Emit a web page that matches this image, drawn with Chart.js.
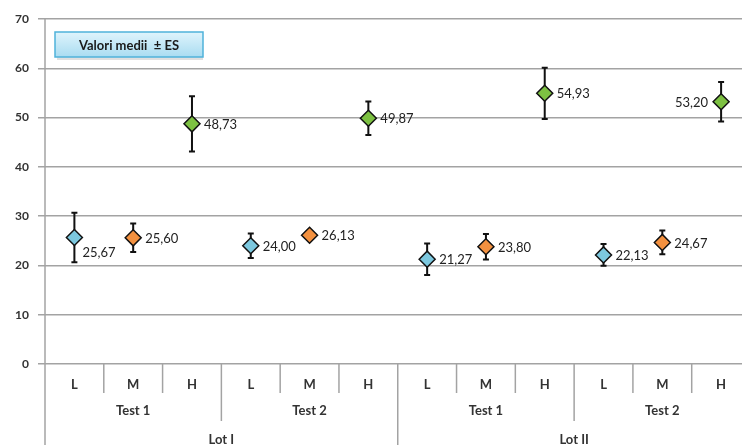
<!DOCTYPE html>
<html>
<head>
<meta charset="utf-8">
<script src="https://cdn.jsdelivr.net/npm/chart.js@4"></script>
<style>
  html, body { margin: 0; padding: 0; background: #fff; overflow: hidden; }
  #wrap { width: 742px; height: 445px; overflow: hidden; position: relative; }
  #box { width: 760px; height: 445px; position: absolute; left: 0; top: 0; }
</style>
</head>
<body>
<div id="wrap"><div id="box"><canvas id="grafico"></canvas></div></div>
<script>
// categorie (tre livelli)
const categories = ['L', 'M', 'H', 'L', 'M', 'H', 'L', 'M', 'H', 'L', 'M', 'H'];
const tests = ['Test 1', 'Test 2', 'Test 1', 'Test 2'];
const lots = ['Lot I', 'Lot II'];

// valori medi e errore standard
const mediaL = [25.67, null, null, 24.00, null, null, 21.27, null, null, 22.13, null, null];
const mediaM = [null, 25.60, null, null, 26.13, null, null, 23.80, null, null, 24.67, null];
const mediaH = [null, null, 48.73, null, null, 49.87, null, null, 54.93, null, null, 53.20];
const esL = [5.0, null, null, 2.5, null, null, 3.2, null, null, 2.2, null, null];
const esM = [null, 2.9, null, null, 0.8, null, null, 2.6, null, null, 2.4, null];
const esH = [null, null, 5.6, null, null, 3.4, null, null, 5.2, null, null, 4.0];

const yTicks = [0, 10, 20, 30, 40, 50, 60, 70];
const titolo = 'Valori medii  \u00b1 ES';

// posizione etichette (solo stile)
const labelPos = {
  '0-0': 'belowRight',
  '2-11': 'left'
};

const gridColor = '#a3a3a3';
const textColor = '#333333';
const fontFam = 'Lato, "Open Sans", sans-serif';

const fmt = v => v.toFixed(2).replace('.', ',');

const erroriPlugin = {
  id: 'errori',
  beforeDatasetsDraw(chart) {
    const ctx = chart.ctx;
    const y = chart.scales.y;
    ctx.save();
    ctx.strokeStyle = '#111';
    ctx.lineWidth = 2;
    chart.data.datasets.forEach((ds, di) => {
      const meta = chart.getDatasetMeta(di);
      meta.data.forEach((pt, i) => {
        const v = ds.data[i], e = ds.errors[i];
        if (v == null || e == null) return;
        const x = pt.x;
        const y1 = y.getPixelForValue(v + e), y2 = y.getPixelForValue(v - e);
        ctx.beginPath();
        ctx.moveTo(x, y1); ctx.lineTo(x, y2);
        ctx.moveTo(x - 3, y1); ctx.lineTo(x + 3, y1);
        ctx.moveTo(x - 3, y2); ctx.lineTo(x + 3, y2);
        ctx.stroke();
      });
    });
    ctx.restore();
  },
  afterDatasetsDraw(chart) {
    const ctx = chart.ctx;
    ctx.save();
    ctx.font = '13px ' + fontFam;
    ctx.fillStyle = '#222';
    ctx.textBaseline = 'middle';
    chart.data.datasets.forEach((ds, di) => {
      const meta = chart.getDatasetMeta(di);
      meta.data.forEach((pt, i) => {
        const v = ds.data[i];
        if (v == null) return;
        const pos = labelPos[di + '-' + i] || 'right';
        if (pos === 'left') {
          ctx.textAlign = 'right';
          ctx.fillText(fmt(v), pt.x - 13, pt.y + 1);
        } else if (pos === 'belowRight') {
          ctx.textAlign = 'left';
          ctx.fillText(fmt(v), pt.x + 8, pt.y + 15);
        } else {
          ctx.textAlign = 'left';
          ctx.fillText(fmt(v), pt.x + 12, pt.y + 1);
        }
      });
    });
    ctx.restore();
  }
};

const assiPlugin = {
  id: 'assi',
  afterDraw(chart) {
    const ctx = chart.ctx;
    const xs = chart.scales.x;
    const area = chart.chartArea;
    const bottom = chart.height;
    ctx.save();
    ctx.strokeStyle = gridColor;
    ctx.lineWidth = 1.5;
    // asse verticale
    ctx.beginPath();
    ctx.moveTo(area.left, area.top);
    ctx.lineTo(area.left, bottom);
    ctx.stroke();
    // divisori categorie
    for (let i = 0; i < categories.length - 1; i++) {
      const x = (xs.getPixelForValue(i) + xs.getPixelForValue(i + 1)) / 2;
      let len = 29;
      if (i === 5) len = bottom - area.bottom;
      else if (i % 3 === 2) len = 57;
      ctx.beginPath();
      ctx.moveTo(x, area.bottom);
      ctx.lineTo(x, area.bottom + len);
      ctx.stroke();
    }
    // etichette gruppi
    ctx.fillStyle = textColor;
    ctx.textAlign = 'center';
    ctx.textBaseline = 'middle';
    ctx.font = 'bold 13px ' + fontFam;
    tests.forEach((t, k) => {
      const x = (xs.getPixelForValue(k * 3) + xs.getPixelForValue(k * 3 + 2)) / 2;
      ctx.fillText(t, x, area.bottom + 47);
    });
    lots.forEach((t, k) => {
      const x = (xs.getPixelForValue(k * 6) + xs.getPixelForValue(k * 6 + 5)) / 2;
      ctx.fillText(t, x, area.bottom + 76);
    });
    // riquadro titolo
    const bx = 55, by = 32, bw = 148, bh = 25;
    ctx.fillStyle = 'rgba(0,0,0,0.12)';
    ctx.fillRect(bx + 2, by + bh, bw - 2, 3);
    const g = ctx.createLinearGradient(0, by, 0, by + bh);
    g.addColorStop(0, '#dff4fc');
    g.addColorStop(1, '#a9dcf1');
    ctx.fillStyle = g;
    ctx.fillRect(bx, by, bw, bh);
    ctx.strokeStyle = '#4fb2da';
    ctx.lineWidth = 1.5;
    ctx.strokeRect(bx, by, bw, bh);
    ctx.fillStyle = '#1a1a1a';
    ctx.font = 'bold 13px ' + fontFam;
    ctx.fillText(titolo, bx + bw / 2, by + bh / 2 + 1);
    ctx.restore();
  }
};

const punto = (label, data, errors, color) => ({
  label: label,
  data: data,
  errors: errors,
  showLine: false,
  pointStyle: 'rectRot',
  pointRadius: 8,
  pointHoverRadius: 8,
  pointBackgroundColor: color,
  pointBorderColor: '#111',
  pointBorderWidth: 1.5,
  backgroundColor: color,
  borderColor: '#111'
});

new Chart(document.getElementById('grafico'), {
  type: 'line',
  data: {
    labels: categories,
    datasets: [
      punto('L', mediaL, esL, '#7cc8df'),
      punto('M', mediaM, esM, '#f39140'),
      punto('H', mediaH, esH, '#7dc142')
    ]
  },
  options: {
    responsive: true,
    maintainAspectRatio: false,
    animation: false,
    layout: { padding: { top: 19, right: 7, left: 0, bottom: 0 } },
    plugins: { legend: { display: false }, tooltip: { enabled: false } },
    scales: {
      x: {
        offset: true,
        grid: { display: false, drawTicks: false, offset: true },
        border: { display: false },
        ticks: {
          padding: 13,
          color: textColor,
          font: { family: fontFam, size: 13, weight: 'bold' },
          maxRotation: 0
        },
        afterFit: s => { s.height = 81; }
      },
      y: {
        min: 0,
        max: 70,
        afterBuildTicks: s => { s.ticks = yTicks.map(v => ({ value: v })); },
        grid: { color: gridColor, lineWidth: 1.5, tickLength: 7 },
        border: { display: false },
        ticks: {
          padding: 9,
          color: textColor,
          font: { family: fontFam, size: 12, weight: 'bold' }
        },
        afterFit: s => { s.width = 45; }
      }
    }
  },
  plugins: [erroriPlugin, assiPlugin]
});
</script>
</body>
</html>
